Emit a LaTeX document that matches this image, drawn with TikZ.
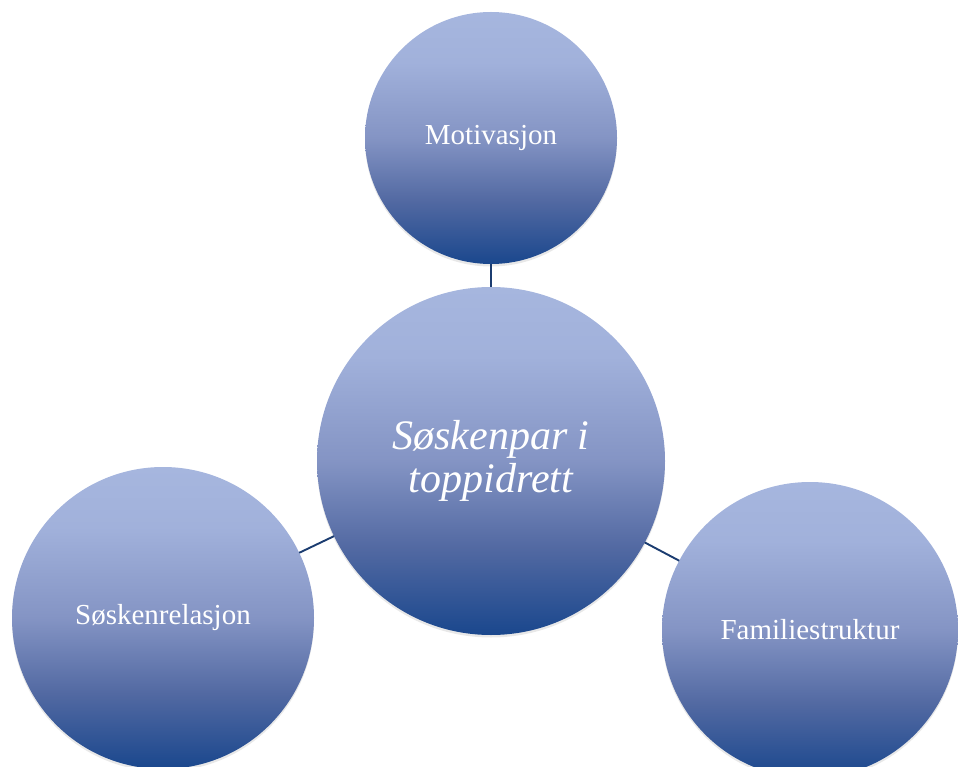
\documentclass[tikz,border=0pt]{standalone}
\usepackage{fontspec}
\setmainfont{Liberation Serif}
\usetikzlibrary{shadows}
\definecolor{balltop}{RGB}{166,182,222}
\definecolor{ballhigh}{RGB}{161,177,219}
\definecolor{ballmid}{RGB}{132,148,196}
\definecolor{balllow}{RGB}{82,105,162}
\definecolor{ballbot}{RGB}{26,71,141}
\definecolor{linkcol}{RGB}{27,60,112}
\pgfdeclareverticalshading{ballshade}{100bp}{color(0bp)=(ballbot); color(25bp)=(ballbot);
  color(37.5bp)=(balllow); color(50bp)=(ballmid); color(65bp)=(ballhigh);
  color(75bp)=(balltop); color(100bp)=(balltop)}
\begin{document}
\begin{tikzpicture}[x=1pt, y=-1pt,
  ball/.style={circle, inner sep=0pt, outer sep=0pt, text=white, align=center,
    shading=ballshade,
    drop shadow={shadow xshift=0pt, shadow yshift=-2.5pt, opacity=0.18}},
  link/.style={draw=linkcol, line width=1.9pt}]
  \useasboundingbox (0,0) rectangle (958,767);
  \node [ball, minimum size=348pt, font=\fontsize{42}{43}\selectfont\itshape] (hub) at (491,461) {Søskenpar i\\toppidrett};
  \node [ball, minimum size=252pt, font=\fontsize{29}{30}\selectfont] (motiv) at (491,138) {Motivasjon};
  \node [ball, minimum size=302pt, font=\fontsize{29}{30}\selectfont] (relasj) at (163,618) {Søskenrelasjon};
  \node [ball, minimum size=296pt, font=\fontsize{29}{30}\selectfont] (famil) at (810,630) {Familiestruktur};
  \draw [link] (hub) -- (motiv);
  \draw [link] (hub) -- (relasj);
  \draw [link] (hub) -- (famil);
\end{tikzpicture}
\end{document}
